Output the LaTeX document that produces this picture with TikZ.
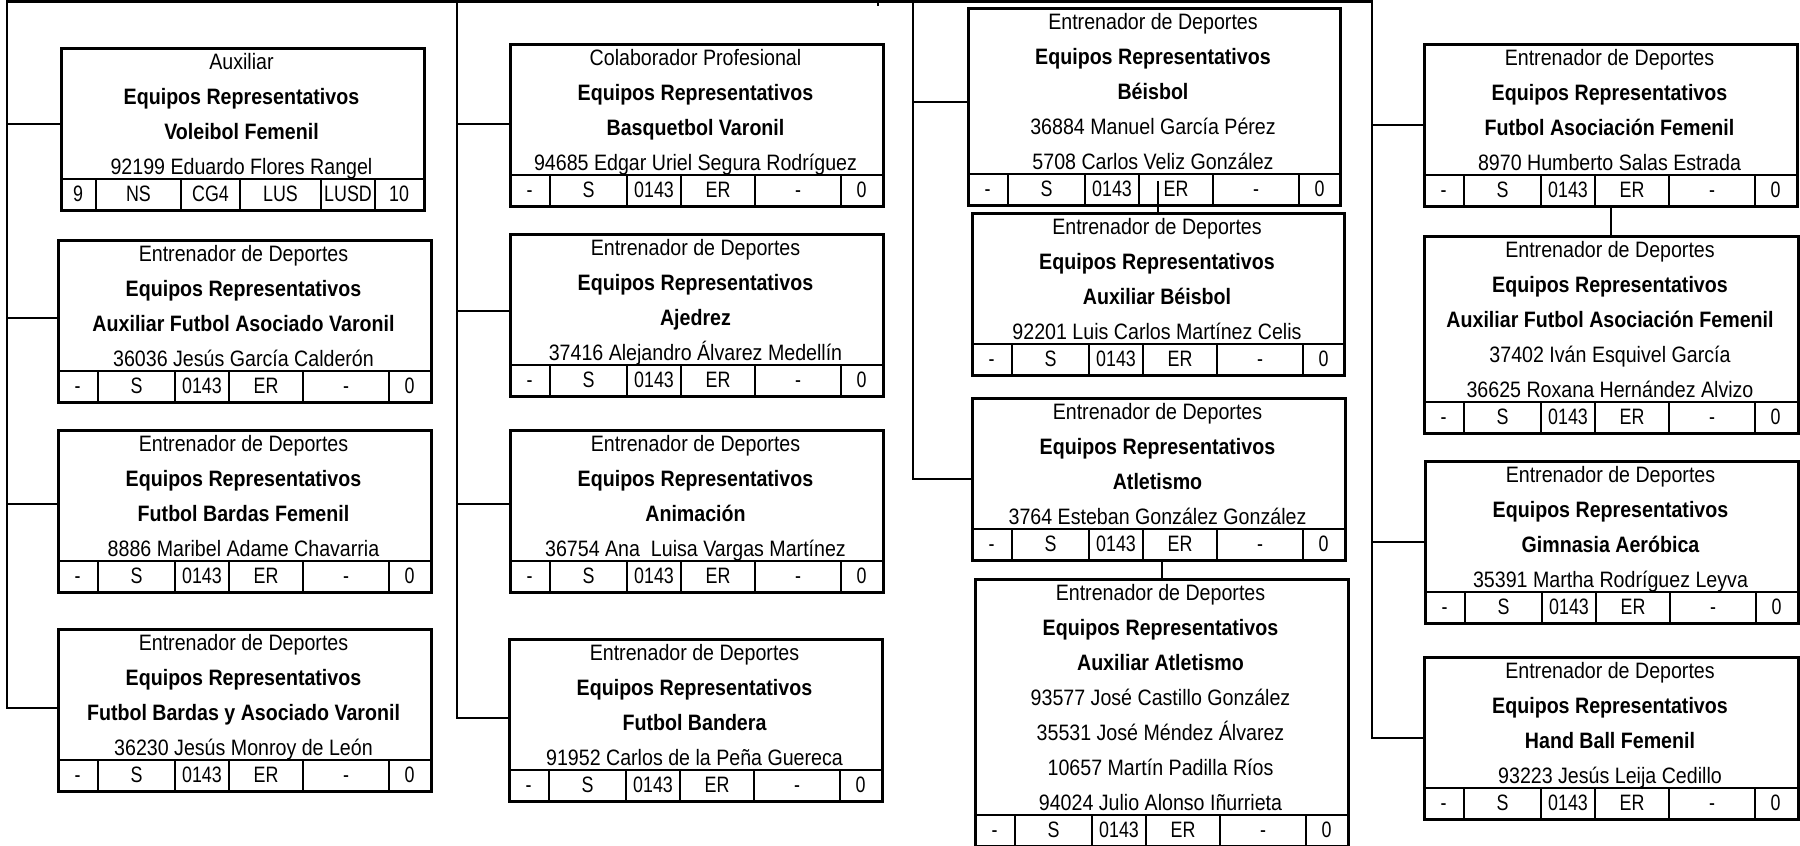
\documentclass[tikz,border=0pt]{standalone}
\usepackage{fontspec}
\setmainfont{Liberation Sans}[FakeStretch=0.88]
\newfontfamily\cellfont{Liberation Sans}[FakeStretch=0.8]
\usetikzlibrary{calc}
\def\stddivs{41,118,172,246,332}
\def\stdcells{20.5/-,79.5/S,145/0143,209/ER,289/-,352.5/0}
\let\divlist\stddivs
\let\celllist\stdcells
\newcommand\orgbox[6]{%
  \pgfmathsetmacro\gtop{#3+132+35*(#5-4)}%
  \pgfmathsetmacro\gbot{\gtop+30}%
  \pgfmathsetmacro\boxh{\gbot-#3}%
  \node[boxst, minimum width=#4pt, minimum height=\boxh pt, anchor=north west] (#1) at (#2,#3) {};
  \draw[gridst] (#2,\gtop) -- (#2+#4,\gtop);
  \foreach \dv in \divlist {\draw[gridst] (#2+\dv,\gtop) -- (#2+\dv,\gbot);}
  \foreach \cx/\ct [count=\kk] in \celllist {\node[celltxt] (#1-c\kk) at (#2+\cx,\gtop+22) {\ct};}
  \foreach \linetext [count=\i] in {#6} {\node[linetxt] (#1-l\i) at (#2+#4/2,#3+22+35*\i-35) {\ifnum\i=2 \bfseries\fi\ifnum\i=3 \bfseries\fi\linetext};}
}
\begin{document}
\begin{tikzpicture}[x=1pt,y=-1pt,
  boxst/.style={draw, line width=2.6pt, inner sep=0pt, fill=white},
  gridst/.style={line width=2pt},
  conn/.style={line width=2.2pt, line cap=rect},
  linetxt/.style={anchor=base, inner sep=0pt, font=\fontsize{22.3}{26}\selectfont},
  celltxt/.style={anchor=base, inner sep=0pt, font=\cellfont\fontsize{22.3}{26}\selectfont}]
\useasboundingbox (0,0) rectangle (1800,846);
% column 1
\def\divlist{36,121,180,261,315}
\def\celllist{18/9,78.5/NS,150.5/CG4,220.5/LUS,288/LUSD,339/10}
\orgbox{b1}{60}{47}{363}{4}{Auxiliar,Equipos Representativos,Voleibol Femenil,92199 Eduardo Flores Rangel}
\let\divlist\stddivs
\let\celllist\stdcells
\orgbox{b2}{57}{239}{373}{4}{Entrenador de Deportes,Equipos Representativos,Auxiliar Futbol Asociado Varonil,36036 Jesús García Calderón}
\orgbox{b3}{57}{429}{373}{4}{Entrenador de Deportes,Equipos Representativos,Futbol Bardas Femenil,8886 Maribel Adame Chavarria}
\orgbox{b4}{57}{628}{373}{4}{Entrenador de Deportes,Equipos Representativos,Futbol Bardas y Asociado Varonil,36230 Jesús Monroy de León}
% column 2
\orgbox{b5}{509}{43}{373}{4}{Colaborador Profesional,Equipos Representativos,Basquetbol Varonil,94685 Edgar Uriel Segura Rodríguez}
\orgbox{b6}{509}{233}{373}{4}{Entrenador de Deportes,Equipos Representativos,Ajedrez,37416 Alejandro Álvarez Medellín}
\orgbox{b7}{509}{429}{373}{4}{Entrenador de Deportes,Equipos Representativos,Animación,36754 Ana\ \ Luisa Vargas Martínez}
\orgbox{b8}{508}{638}{373}{4}{Entrenador de Deportes,Equipos Representativos,Futbol Bandera,91952 Carlos de la Peña Guereca}
% column 3
\orgbox{b9}{967}{7}{372}{5}{Entrenador de Deportes,Equipos Representativos,Béisbol,36884 Manuel García Pérez,5708 Carlos Veliz González}
\orgbox{b10}{971}{212}{372}{4}{Entrenador de Deportes,Equipos Representativos,Auxiliar Béisbol,92201 Luis Carlos Martínez Celis}
\orgbox{b11}{971}{397}{373}{4}{Entrenador de Deportes,Equipos Representativos,Atletismo,3764 Esteban González González}
\orgbox{b12}{974}{578}{373}{7}{Entrenador de Deportes,Equipos Representativos,Auxiliar Atletismo,93577 José Castillo González,35531 José Méndez Álvarez,10657 Martín Padilla Ríos,94024 Julio Alonso Iñurrieta}
% column 4
\orgbox{b13}{1423}{43}{373}{4}{Entrenador de Deportes,Equipos Representativos,Futbol Asociación Femenil,8970 Humberto Salas Estrada}
\orgbox{b14}{1423}{235}{374}{5}{Entrenador de Deportes,Equipos Representativos,Auxiliar Futbol Asociación Femenil,37402 Iván Esquivel García,36625 Roxana Hernández Alvizo}
\orgbox{b15}{1424}{460}{373}{4}{Entrenador de Deportes,Equipos Representativos,Gimnasia Aeróbica,35391 Martha Rodríguez Leyva}
\orgbox{b16}{1423}{656}{374}{4}{Entrenador de Deportes,Equipos Representativos,Hand Ball Femenil,93223 Jesús Leija Cedillo}
% connectors
\coordinate (root) at (878,0);
\coordinate (v1) at (7,1.5);
\coordinate (v2) at (457,1.5);
\coordinate (v3) at (913,1.5);
\coordinate (v4) at (1372,1.5);
\draw[conn] (root) -- ++(0,5);
\draw[conn] (v1) -- (v4);
\draw[conn] (v1) |- ([yshift=5pt]b1.west);
\draw[conn] (v1) |- ([yshift=3pt]b2.west);
\draw[conn] (v1) |- ([yshift=7pt]b3.west);
\draw[conn] (v1) |- ([yshift=2pt]b4.west);
\draw[conn] (v2) |- ([yshift=1pt]b5.west);
\draw[conn] (v2) |- ([yshift=4pt]b6.west);
\draw[conn] (v2) |- ([yshift=7pt]b7.west);
\draw[conn] (v2) |- ([yshift=2pt]b8.west);
\draw[conn] (v3) |- ([yshift=5pt]b9.west);
\draw[conn] (v3) |- (b11.west);
\draw[conn] (v4) |- (b13.west);
\draw[conn] (v4) |- (b15.west);
\draw[conn] (v4) |- (b16.west);
\draw[conn] (b10.north) -- ++(0,-30);
\draw[conn] (b11.south -| b12.north) -- (b12.north);
\draw[conn] (b13.south -| b14.north) -- (b14.north);
\end{tikzpicture}
\end{document}
